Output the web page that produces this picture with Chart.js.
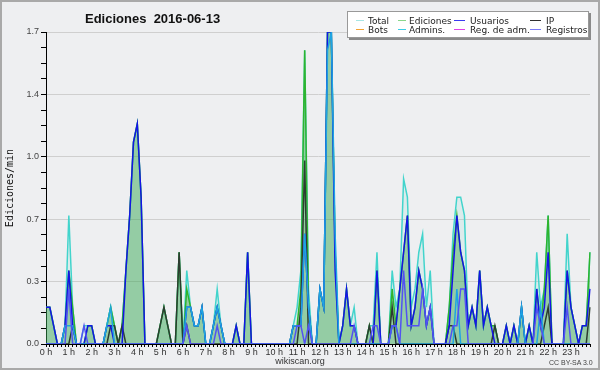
<!DOCTYPE html>
<html>
<head>
<meta charset="utf-8">
<script src="https://cdn.jsdelivr.net/npm/chart.js@4.4.1/dist/chart.umd.min.js"></script>
<style>
  html, body { margin: 0; padding: 0; background: #eeeff1; }
  #wrap { position: relative; width: 600px; height: 370px; overflow: hidden; }
  #chart { position: absolute; left: 0; top: 0; }
  #frame { position: absolute; left: 0; top: 0; width: 600px; height: 370px; box-sizing: border-box; border: 2px solid #a9a9a9; pointer-events: none; }
  .title { position: absolute; left: 85px; top: 11px; font: bold 13px "Liberation Sans", sans-serif; color: #111; white-space: pre; }
  .legend { position: absolute; left: 347px; top: 11px; width: 240px; height: 25px; background: #fff; border: 1px solid #999; box-shadow: 2px 2px 0 #8a8a8a; }
  .legend .ln { position: absolute; height: 0; border-top: 1.5px solid; }
  .legend .tx { position: absolute; font: 9px "DejaVu Sans", sans-serif; color: #222; line-height: 10px; white-space: pre; }
  .foot { position: absolute; left: 0; width: 600px; top: 356px; text-align: center; font: 9px "Liberation Sans", sans-serif; color: #333; }
  .cc { position: absolute; left: 549px; top: 359px; font: 7px "Liberation Sans", sans-serif; color: #444; }
</style>
</head>
<body>
<div id="wrap">
  <canvas id="chart" width="600" height="370"></canvas>
  <div class="title">Ediciones  2016-06-13</div>
  <div class="legend" id="legend"></div>
  <div class="foot">wikiscan.org</div>
  <div class="cc">CC BY-SA 3.0</div>
  <div id="frame"></div>
</div>
<script>
// etiquetas de horas (eje x, un punto cada 10 min)
var hourLabels = ['0 h', '1 h', '2 h', '3 h', '4 h', '5 h', '6 h', '7 h', '8 h', '9 h', '10 h', '11 h',
                  '12 h', '13 h', '14 h', '15 h', '16 h', '17 h', '18 h', '19 h', '20 h', '21 h', '22 h', '23 h'];
var yTickLabels = ['0.0', '0.3', '0.7', '1.0', '1.4', '1.7'];
var yMax = 1.7;

// ediciones por minuto, una fila por hora
var total = [
  0.2, 0.2, 0.1, 0, 0, 0.1,
  0.7, 0.2, 0, 0, 0.1, 0.1,
  0.1, 0, 0, 0, 0.1, 0.2,
  0.1, 0, 0.1, 0.4, 0.7, 1.1,
  1.2, 0.8, 0, 0, 0, 0,
  0.1, 0.2, 0.1, 0, 0, 0.5,
  0, 0.4, 0.2, 0.1, 0.1, 0.2,
  0, 0, 0.1, 0.3, 0.1, 0,
  0, 0, 0.1, 0, 0, 0.5,
  0, 0, 0, 0, 0, 0,
  0, 0, 0, 0, 0, 0.1,
  0.2, 0.4, 1.6, 0.3, 0, 0,
  0.3, 0.2, 1.7, 1.7, 0.5, 0,
  0.1, 0.3, 0.1, 0.2, 0, 0,
  0, 0.1, 0.1, 0.5, 0, 0,
  0, 0.4, 0.2, 0.3, 0.9, 0.8,
  0.2, 0.3, 0.5, 0.6, 0.2, 0.4,
  0, 0, 0, 0, 0.2, 0.6,
  0.8, 0.8, 0.7, 0.1, 0.2, 0.1,
  0.4, 0.1, 0.2, 0.1, 0.1, 0,
  0, 0.1, 0, 0.1, 0, 0.2,
  0, 0.1, 0, 0.5, 0.2, 0.3,
  0.7, 0, 0, 0, 0, 0.6,
  0.2, 0.1, 0, 0.1, 0.1, 0.5
];
var ediciones = [
  0.2, 0.2, 0.1, 0, 0, 0.1,
  0.4, 0.2, 0, 0, 0, 0.1,
  0.1, 0, 0, 0, 0.1, 0.2,
  0.1, 0, 0.1, 0.4, 0.7, 1.1,
  1.2, 0.8, 0, 0, 0, 0,
  0.1, 0.2, 0.1, 0, 0, 0.5,
  0, 0.3, 0.2, 0.1, 0.1, 0.2,
  0, 0, 0.1, 0.2, 0.1, 0,
  0, 0, 0.1, 0, 0, 0.5,
  0, 0, 0, 0, 0, 0,
  0, 0, 0, 0, 0, 0.1,
  0.1, 0.3, 1.6, 0.2, 0, 0,
  0.3, 0.2, 1.7, 1.7, 0.5, 0,
  0.1, 0.3, 0.1, 0.1, 0, 0,
  0, 0.1, 0, 0.4, 0, 0,
  0, 0.3, 0.1, 0.3, 0.5, 0.7,
  0.1, 0.2, 0.4, 0.3, 0.1, 0.2,
  0, 0, 0, 0, 0.2, 0.5,
  0.7, 0.5, 0.4, 0.1, 0.2, 0.1,
  0.4, 0.1, 0.2, 0.1, 0.1, 0,
  0, 0.1, 0, 0.1, 0, 0.2,
  0, 0.1, 0, 0.3, 0.1, 0.3,
  0.7, 0, 0, 0, 0, 0.4,
  0.2, 0.1, 0, 0.1, 0.1, 0.5
];
var usuarios = [
  0.2, 0.2, 0.1, 0, 0, 0.1,
  0.4, 0.1, 0, 0, 0, 0.1,
  0.1, 0, 0, 0, 0.1, 0.1,
  0, 0, 0, 0.4, 0.7, 1.1,
  1.2, 0.8, 0, 0, 0, 0,
  0, 0, 0, 0, 0, 0,
  0, 0.2, 0.2, 0.1, 0.1, 0.2,
  0, 0, 0.1, 0.2, 0.1, 0,
  0, 0, 0.1, 0, 0, 0.5,
  0, 0, 0, 0, 0, 0,
  0, 0, 0, 0, 0, 0.1,
  0.1, 0.1, 0.6, 0.2, 0, 0,
  0.3, 0.2, 1.7, 1.7, 0.4, 0,
  0.1, 0.3, 0.1, 0.1, 0, 0,
  0, 0, 0, 0.4, 0, 0,
  0, 0.1, 0.1, 0.3, 0.5, 0.7,
  0.1, 0.2, 0.4, 0.3, 0.1, 0.2,
  0, 0, 0, 0, 0.1, 0.4,
  0.7, 0.5, 0.4, 0.1, 0.2, 0.1,
  0.4, 0.1, 0.2, 0.1, 0, 0,
  0, 0.1, 0, 0.1, 0, 0.2,
  0, 0.1, 0, 0.3, 0.1, 0.2,
  0.5, 0, 0, 0, 0, 0.4,
  0.2, 0.1, 0, 0.1, 0.1, 0.3
];
var ip = [
  0, 0, 0, 0, 0, 0,
  0, 0.1, 0, 0, 0, 0,
  0, 0, 0, 0, 0, 0.1,
  0.1, 0, 0.1, 0, 0, 0,
  0, 0, 0, 0, 0, 0,
  0.1, 0.2, 0.1, 0, 0, 0.5,
  0, 0.1, 0, 0, 0, 0,
  0, 0, 0, 0, 0, 0,
  0, 0, 0, 0, 0, 0,
  0, 0, 0, 0, 0, 0,
  0, 0, 0, 0, 0, 0,
  0, 0.2, 1.0, 0, 0, 0,
  0, 0, 0, 0, 0, 0,
  0, 0, 0, 0, 0, 0,
  0, 0.1, 0, 0, 0, 0,
  0, 0.2, 0, 0, 0, 0,
  0, 0, 0, 0, 0, 0,
  0, 0, 0, 0, 0.1, 0.1,
  0, 0, 0, 0, 0, 0,
  0, 0, 0, 0, 0.1, 0,
  0, 0, 0, 0, 0, 0,
  0, 0, 0, 0, 0, 0.1,
  0.2, 0, 0, 0, 0, 0,
  0, 0, 0, 0, 0, 0.2
];
var admins = [
  0, 0, 0, 0, 0, 0.1,
  0.1, 0.1, 0, 0, 0, 0,
  0, 0, 0, 0, 0.1, 0.2,
  0, 0, 0, 0, 0, 0,
  0, 0, 0, 0, 0, 0,
  0, 0, 0, 0, 0, 0,
  0, 0.2, 0.2, 0.1, 0.1, 0.2,
  0, 0, 0.1, 0.2, 0.1, 0,
  0, 0, 0, 0, 0, 0,
  0, 0, 0, 0, 0, 0,
  0, 0, 0, 0, 0, 0.1,
  0.1, 0.1, 0.6, 0.2, 0, 0,
  0.3, 0.2, 1.6, 1.7, 0.6, 0,
  0, 0, 0, 0, 0, 0,
  0, 0, 0, 0, 0, 0,
  0, 0.1, 0.1, 0, 0, 0,
  0, 0, 0, 0, 0, 0,
  0, 0, 0, 0, 0, 0,
  0.3, 0, 0, 0, 0, 0,
  0, 0, 0, 0, 0, 0,
  0, 0, 0, 0, 0, 0.2,
  0, 0, 0, 0, 0.2, 0,
  0, 0, 0, 0, 0, 0,
  0, 0, 0, 0, 0, 0
];
var registros = [
  0, 0, 0, 0, 0, 0,
  0.3, 0, 0, 0, 0.1, 0,
  0, 0, 0, 0, 0, 0,
  0, 0, 0, 0, 0, 0,
  0, 0, 0, 0, 0, 0,
  0, 0, 0, 0, 0, 0,
  0, 0.1, 0, 0, 0, 0,
  0, 0, 0, 0.1, 0, 0,
  0, 0, 0, 0, 0, 0,
  0, 0, 0, 0, 0, 0,
  0, 0, 0, 0, 0, 0,
  0.1, 0.1, 0, 0.1, 0, 0,
  0, 0, 0, 0, 0, 0,
  0, 0, 0, 0.1, 0, 0,
  0, 0, 0.1, 0.1, 0, 0,
  0, 0.1, 0.1, 0, 0.4, 0.1,
  0.1, 0.1, 0.1, 0.3, 0.1, 0.2,
  0, 0, 0, 0, 0, 0.1,
  0.1, 0.3, 0.3, 0, 0, 0,
  0, 0, 0, 0, 0, 0,
  0, 0, 0, 0, 0, 0,
  0, 0, 0, 0.2, 0.1, 0,
  0, 0, 0, 0, 0, 0.2,
  0, 0, 0, 0, 0, 0
];

// leyenda (4 columnas x 2 filas)
var legendNames = ['Total', 'Ediciones', 'Usuarios', 'IP', 'Bots', 'Admins.', 'Reg. de adm.', 'Registros'];
var legendColors = ['#a6e6e4', '#8ad68a', '#3a3af0', '#303030', '#f5a332', '#3ccce6', '#e040e6', '#7a7af6'];

var lineX = [8, 50, 106, 182];
var lineW = [8, 8, 11, 11];
var textX = [20, 61, 122, 198];
var rowY = [8, 17];
var lg = document.getElementById('legend');
for (var i = 0; i < legendNames.length; i++) {
  var col = i % 4, row = Math.floor(i / 4);
  var ln = document.createElement('div');
  ln.className = 'ln';
  ln.style.left = lineX[col] + 'px';
  ln.style.width = lineW[col] + 'px';
  ln.style.top = rowY[row] + 'px';
  ln.style.borderColor = legendColors[i];
  lg.appendChild(ln);
  var tx = document.createElement('div');
  tx.className = 'tx';
  tx.style.left = textX[col] + 'px';
  tx.style.top = (rowY[row] - 4) + 'px';
  tx.textContent = legendNames[i];
  lg.appendChild(tx);
}

// categorias del eje x: 144 puntos de 10 minutos
var xLabels = [];
for (var h = 0; h < hourLabels.length; h++) {
  for (var m = 0; m < 6; m++) {
    xLabels.push(h + ':' + m + '0');
  }
}

function serie(label, data, color, order, fillColor) {
  return {
    label: label,
    data: data,
    borderColor: color,
    backgroundColor: fillColor || color,
    fill: fillColor ? 'origin' : false,
    borderWidth: 1.5,
    pointRadius: 0,
    tension: 0,
    order: order
  };
}

var ctx = document.getElementById('chart').getContext('2d');
var chart = new Chart(ctx, {
  type: 'line',
  data: {
    labels: xLabels,
    datasets: [
      serie('Total', total, '#42d4cc', 7, 'rgba(64,208,200,0.10)'),
      serie('Ediciones', ediciones, '#2eb42e', 6, 'rgba(56,165,70,0.44)'),
      serie('IP', ip, '#2c3c30', 5),
      serie('Usuarios', usuarios, '#1414e6', 4),
      serie('Admins.', admins, '#1ea4e2', 3),
      serie('Registros', registros, '#5252f2', 2)
    ]
  },
  options: {
    responsive: false,
    animation: false,
    layout: { padding: { top: 32, right: 10, left: 0, bottom: 0 } },
    plugins: {
      legend: { display: false },
      tooltip: { enabled: false },
      filler: { drawTime: 'beforeDatasetsDraw' }
    },
    scales: {
      x: {
        type: 'category',
        offset: false,
        border: { color: '#000', width: 1 },
        grid: { drawOnChartArea: false, drawTicks: true, tickLength: 3, tickColor: '#000' },
        ticks: {
          autoSkip: false,
          maxRotation: 0,
          padding: 0,
          color: '#333',
          font: { family: 'Liberation Sans', size: 9 },
          callback: function (v, idx) {
            return idx % 6 === 0 ? hourLabels[idx / 6] : '';
          }
        },
        afterFit: function (scale) { scale.height = 26; }
      },
      y: {
        min: 0,
        max: yMax,
        border: { color: '#000', width: 1 },
        grid: {
          color: function (c) { return c.index % 4 === 0 ? '#cfcfcf' : 'rgba(0,0,0,0)'; },
          tickColor: '#000',
          tickLength: 5,
          lineWidth: 1
        },
        ticks: {
          padding: 2,
          color: '#444',
          font: { family: 'Liberation Sans', size: 9 },
          callback: function (v, idx) {
            return idx % 4 === 0 ? yTickLabels[idx / 4] : '';
          }
        },
        afterBuildTicks: function (scale) {
          var t = [];
          for (var k = 0; k <= 20; k++) t.push({ value: k * yMax / 20 });
          scale.ticks = t;
        },
        title: {
          display: true,
          text: 'Ediciones/min',
          color: '#111',
          font: { family: 'DejaVu Sans Mono', size: 10 },
          padding: { top: 4, bottom: 0 }
        },
        afterFit: function (scale) { scale.width = 46; }
      }
    }
  }
});
</script>
</body>
</html>
